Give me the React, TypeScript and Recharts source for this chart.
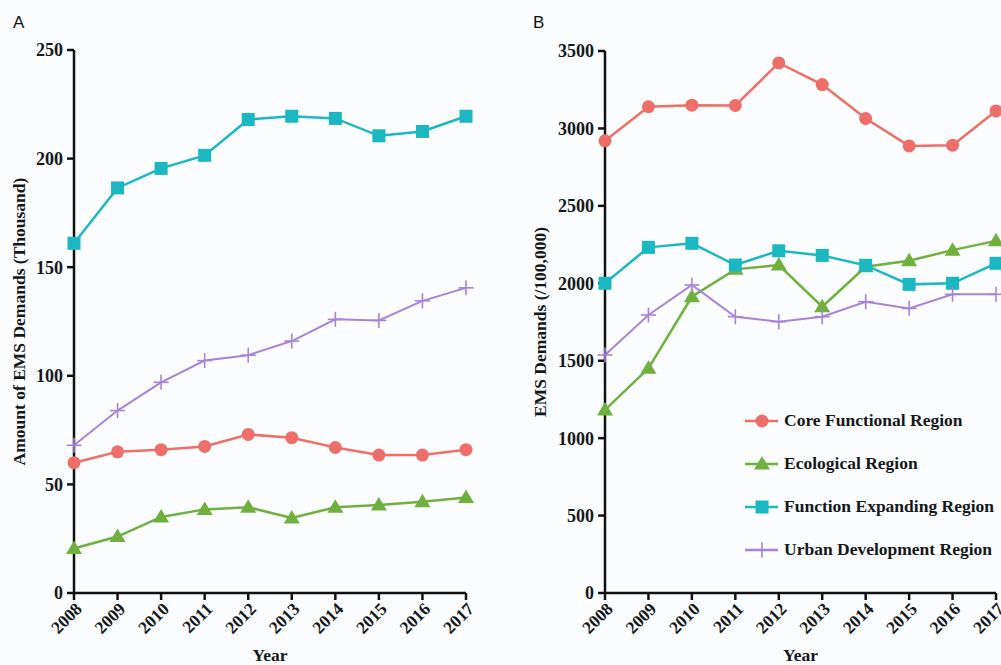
import React from 'react';
import { LineChart, Line, XAxis, YAxis, Legend, Label } from 'recharts';

const years = [2008, 2009, 2010, 2011, 2012, 2013, 2014, 2015, 2016, 2017];

// Panel A: amount of EMS demands (thousand)
const coreA = [60, 65, 66, 67.5, 73, 71.5, 67, 63.5, 63.5, 66];
const ecoA = [20.5, 26, 35, 38.5, 39.5, 34.5, 39.5, 40.5, 42, 44];
const funcA = [161, 186.5, 195.5, 201.5, 218, 219.5, 218.5, 210.5, 212.5, 219.5];
const urbanA = [68, 84, 97, 107, 109.5, 116, 126, 125.5, 134.5, 140.5];

// Panel B: EMS demands per 100,000
const coreB = [2920, 3140, 3150, 3148, 3423, 3283, 3064, 2887, 2892, 3113];
const ecoB = [1182, 1451, 1913, 2090, 2118, 1849, 2107, 2146, 2214, 2274];
const funcB = [2000, 2232, 2258, 2118, 2210, 2180, 2116, 1993, 2000, 2129];
const urbanB = [1537, 1795, 1989, 1784, 1752, 1784, 1881, 1838, 1929, 1929];

const ticksA = [0, 50, 100, 150, 200, 250];
const ticksB = [0, 500, 1000, 1500, 2000, 2500, 3000, 3500];

const seriesNames = {
  core: 'Core Functional Region',
  eco: 'Ecological Region',
  func: 'Function Expanding Region',
  urban: 'Urban Development Region',
};

const COLORS = {
  core: '#ee6f6a',
  eco: '#70b03f',
  func: '#1bb8c2',
  urban: '#a883d8',
};

const SERIF = '"Liberation Serif", "Times New Roman", serif';
const INK = '#15181a';

const dataA = years.map((year, i) => ({
  year,
  core: coreA[i],
  eco: ecoA[i],
  func: funcA[i],
  urban: urbanA[i],
}));

const dataB = years.map((year, i) => ({
  year,
  core: coreB[i],
  eco: ecoB[i],
  func: funcB[i],
  urban: urbanB[i],
}));

type Shape = 'circle' | 'triangle' | 'square' | 'plus';

const marker = (shape: Shape, cx: number, cy: number, color: string, key?: React.Key) => {
  switch (shape) {
    case 'circle':
      return <circle key={key} cx={cx} cy={cy} r={6.5} fill={color} stroke="none" />;
    case 'square':
      return <rect key={key} x={cx - 6.5} y={cy - 6.5} width={13} height={13} fill={color} stroke="none" />;
    case 'triangle':
      return (
        <polygon
          key={key}
          points={`${cx},${cy - 8} ${cx + 8},${cy + 5.5} ${cx - 8},${cy + 5.5}`}
          fill={color}
          stroke="none"
        />
      );
    default:
      return (
        <g key={key} stroke={color} strokeWidth={1.6}>
          <line x1={cx - 7.5} y1={cy} x2={cx + 7.5} y2={cy} />
          <line x1={cx} y1={cy - 7.5} x2={cx} y2={cy + 7.5} />
        </g>
      );
  }
};

const shapeOf: Record<string, Shape> = {
  core: 'circle',
  eco: 'triangle',
  func: 'square',
  urban: 'plus',
};

const dotFor = (shape: Shape, color: string) => (props: any) =>
  marker(shape, props.cx, props.cy, color, `${shape}-${props.index}`);

const YearTick = ({ x, y, payload }: any) => {
  const ax = x + 9;
  const ay = y + 8;
  return (
    <text
      x={ax}
      y={ay}
      transform={`rotate(-45, ${ax}, ${ay})`}
      textAnchor="end"
      fontFamily={SERIF}
      fontWeight="bold"
      fontSize={17.5}
      fill={INK}
    >
      {payload.value}
    </text>
  );
};

const yTitle = (text: string, offsetX: number) => (props: any) => {
  const vb = props.viewBox;
  const x = vb.x + offsetX;
  const y = vb.y + vb.height / 2;
  return (
    <text
      x={x}
      y={y}
      dy="0.35em"
      transform={`rotate(-90, ${x}, ${y})`}
      textAnchor="middle"
      fontFamily={SERIF}
      fontWeight="bold"
      fontSize={17.5}
      fill={INK}
    >
      {text}
    </text>
  );
};

const xTitle = (props: any) => {
  const vb = props.viewBox;
  return (
    <text
      x={vb.x + vb.width / 2}
      y={vb.y + 68}
      textAnchor="middle"
      fontFamily={SERIF}
      fontWeight="bold"
      fontSize={17.5}
      fill={INK}
    >
      Year
    </text>
  );
};

const LegendBox = ({ payload }: any) => (
  <div>
    {(payload || []).map((entry: any) => {
      const key = entry.dataKey as string;
      return (
        <div key={key} style={{ display: 'flex', alignItems: 'center', height: 43 }}>
          <svg width={36} height={20} style={{ overflow: 'visible' }}>
            <line x1={0} y1={10} x2={33} y2={10} stroke={entry.color} strokeWidth={2.5} />
            {marker(shapeOf[key], 17, 10, entry.color)}
          </svg>
          <span
            style={{
              marginLeft: 3,
              fontFamily: SERIF,
              fontWeight: 'bold',
              fontSize: 17.5,
              color: INK,
              whiteSpace: 'nowrap',
            }}
          >
            {entry.value}
          </span>
        </div>
      );
    })}
  </div>
);

const tickStyle = { fontFamily: SERIF, fontWeight: 'bold', fontSize: 18, fill: INK };
const axisLine = { stroke: '#111', strokeWidth: 2.5 };
const tickLine = { stroke: '#111', strokeWidth: 2.5 };

const renderLines = () =>
  (['core', 'eco', 'func', 'urban'] as const).map((k) => (
    <Line
      key={k}
      type="linear"
      dataKey={k}
      name={seriesNames[k]}
      stroke={COLORS[k]}
      strokeWidth={k === 'urban' ? 2 : 2.5}
      dot={dotFor(shapeOf[k], COLORS[k])}
      activeDot={false}
      isAnimationActive={false}
    />
  ));

const panelLetter = (letter: string, left: number) => (
  <div
    style={{
      position: 'absolute',
      left,
      top: 13,
      fontFamily: '"Liberation Sans", Arial, sans-serif',
      fontSize: 17,
      color: '#111',
    }}
  >
    {letter}
  </div>
);

export default function App() {
  return (
    <div
      style={{
        position: 'absolute',
        left: 0,
        top: 0,
        width: 1001,
        height: 665,
        background: '#fbfcfe',
        overflow: 'hidden',
      }}
    >
      {panelLetter('A', 13)}
      {panelLetter('B', 533)}

      <div style={{ position: 'absolute', left: 0, top: 0 }}>
        <LineChart width={500} height={665} data={dataA} margin={{ top: 50, right: 34, bottom: 0, left: 0 }}>
          <XAxis
            dataKey="year"
            type="number"
            domain={[2008, 2017]}
            ticks={years}
            interval={0}
            height={72}
            tickSize={7}
            axisLine={axisLine}
            tickLine={tickLine}
            tick={<YearTick />}
          >
            <Label content={xTitle} />
          </XAxis>
          <YAxis
            domain={[0, 250]}
            ticks={ticksA}
            width={74}
            tickSize={7}
            tickMargin={4}
            axisLine={axisLine}
            tickLine={tickLine}
            tick={tickStyle}
          >
            <Label content={yTitle('Amount of EMS Demands (Thousand)', 19)} />
          </YAxis>
          {renderLines()}
        </LineChart>
      </div>

      <div style={{ position: 'absolute', left: 500, top: 0 }}>
        <LineChart width={501} height={665} data={dataB} margin={{ top: 51, right: 5, bottom: 0, left: 0 }}>
          <XAxis
            dataKey="year"
            type="number"
            domain={[2008, 2017]}
            ticks={years}
            interval={0}
            height={72}
            tickSize={7}
            axisLine={axisLine}
            tickLine={tickLine}
            tick={<YearTick />}
          >
            <Label content={xTitle} />
          </XAxis>
          <YAxis
            domain={[0, 3500]}
            ticks={ticksB}
            width={105}
            tickSize={7}
            tickMargin={4}
            axisLine={axisLine}
            tickLine={tickLine}
            tick={tickStyle}
          >
            <Label content={yTitle('EMS Demands (/100,000)', 40)} />
          </YAxis>
          {renderLines()}
          <Legend
            layout="vertical"
            align="center"
            verticalAlign="middle"
            content={<LegendBox />}
            wrapperStyle={{ left: 245, top: 399, width: 260 }}
          />
        </LineChart>
      </div>
    </div>
  );
}
